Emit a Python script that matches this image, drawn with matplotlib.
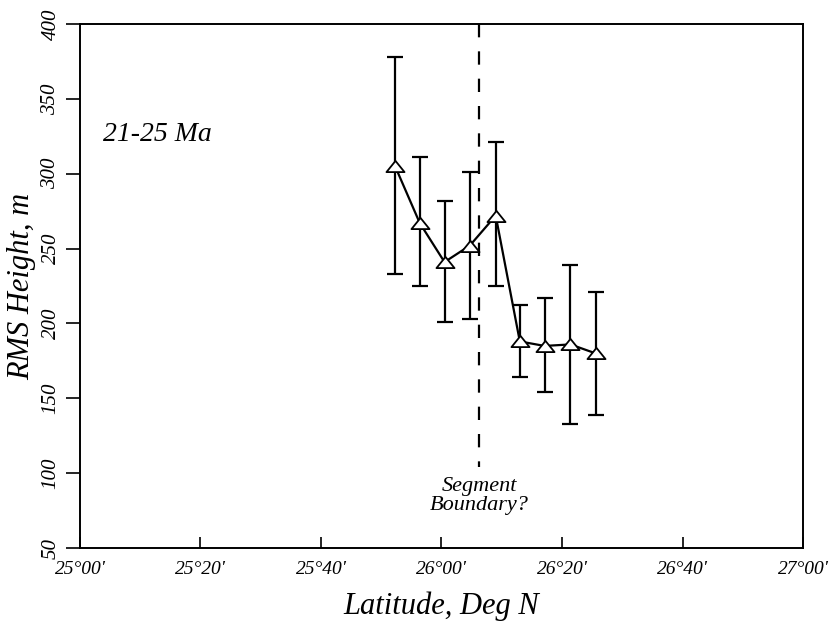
import matplotlib
matplotlib.use('Agg')
import matplotlib.pyplot as plt
from matplotlib.path import Path

# Latitude in minutes north of 25°00'
lat_min = [52.3, 56.4, 60.5, 64.7, 69.0, 73.0, 77.1, 81.4, 85.6]
rms = [305, 267, 241, 252, 272, 188, 185, 186, 180]
err_lo = [233, 225, 201, 203, 225, 164, 154, 133, 139]
err_hi = [378, 311, 282, 301, 321, 212, 217, 239, 221]

xtick_vals = [0, 20, 40, 60, 80, 100, 120]
xtick_labels = ["25°00'", "25°20'", "25°40'", "26°00'", "26°20'", "26°40'", "27°00'"]
ytick_vals = [50, 100, 150, 200, 250, 300, 350, 400]

boundary_x = 66.3
boundary_bottom = 104

plt.rcParams['font.family'] = ['Liberation Serif', 'DejaVu Serif']
plt.rcParams['font.style'] = 'italic'

fig = plt.figure(figsize=(8.33, 6.3), dpi=100)
ax = fig.add_axes([0.096, 0.130, 0.868, 0.832])

tri = Path([(0, 0.62), (-1, -0.62), (1, -0.62), (0, 0.62)],
           [Path.MOVETO, Path.LINETO, Path.LINETO, Path.CLOSEPOLY])

yerr = [[r - lo for r, lo in zip(rms, err_lo)], [hi - r for r, hi in zip(rms, err_hi)]]
ax.errorbar(lat_min, rms, yerr=yerr, fmt='-', color='black', lw=1.6,
            elinewidth=1.6, capsize=6, capthick=1.6, zorder=2)
ax.plot(lat_min, rms, linestyle='none', marker=tri, markersize=13,
        markerfacecolor='white', markeredgecolor='black', markeredgewidth=1.3, zorder=3)

ax.plot([boundary_x, boundary_x], [400, boundary_bottom], color='black', lw=1.6,
        dashes=(6.0, 6.3), zorder=1)
ax.text(boundary_x, 91, "Segment", ha='center', va='center', fontsize=16, style='italic')
ax.text(boundary_x, 78.5, "Boundary?", ha='center', va='center', fontsize=16, style='italic')

ax.text(3.8, 326, "21-25 Ma", ha='left', va='center', fontsize=20, style='italic')

ax.set_xlim(0, 120)
ax.set_ylim(50, 400)
ax.set_xticks(xtick_vals)
ax.set_xticklabels(xtick_labels, fontsize=14, style='italic')
ax.set_yticks(ytick_vals)
ax.set_yticklabels([str(v) for v in ytick_vals], fontsize=15, style='italic',
                   rotation=90, va='center')
ax.tick_params(axis='x', direction='in', length=8, width=1.2, pad=9)
ax.tick_params(axis='y', direction='out', length=10, width=1.2, pad=4)

for s in ax.spines.values():
    s.set_linewidth(1.4)

ax.set_xlabel("Latitude, Deg N", fontsize=22, style='italic', labelpad=10)
ax.set_ylabel("RMS Height, m", fontsize=22, style='italic', labelpad=4)

fig.savefig('out.png', dpi=100, facecolor='white')
